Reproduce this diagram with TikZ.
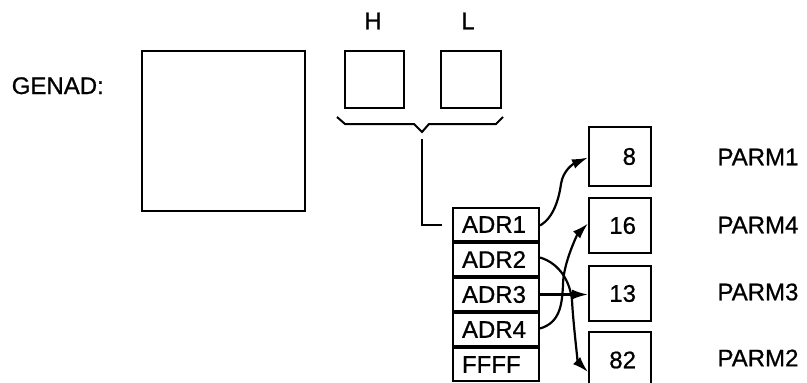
\documentclass[tikz,border=0pt]{standalone}
\usepackage{fontspec}
\setmainfont{Liberation Sans}[FakeBold=0.8]
\usetikzlibrary{arrows.meta}
\begin{document}
\begin{tikzpicture}[x=1pt,y=-1pt,
  every node/.style={font=\fontsize{24}{28}\selectfont},
  box/.style={draw,line width=2.2pt,inner sep=0pt},
  adrbox/.style={draw,line width=2pt,minimum width=86pt,minimum height=33pt,
     text width=68pt,inner xsep=9pt,inner ysep=0pt,align=left},
  valbox/.style={draw,line width=2pt,minimum height=56pt,
     text width=32pt,inner xsep=15pt,inner ysep=0pt,align=right},
  lbl/.style={anchor=west},
  wire/.style={line width=2pt},
  arr/.style={line width=2.2pt,-{Latex[length=16pt,width=10pt]}}]
\clip (0,0) rectangle (807,383);
% GENAD and registers
\node[anchor=base east,inner sep=0pt] (genad) at (104,94) {GENAD:};
\node[box,minimum width=163pt,minimum height=160pt] (big) at (223.5,131) {};
\node[box,minimum width=59pt,minimum height=57pt] (hbox) at (374.5,79.5) {};
\node[box,minimum width=60pt,minimum height=57pt] (lbox) at (471,79.5) {};
\node (hl) at (373,21) {H};
\node (ll) at (468,21) {L};
% brace
\draw[wire,line join=miter] (337,117) -- (345,124) -- (414,124) -- (422,132) -- (429,124) -- (496,124) -- (503,117);
\coordinate (bt) at (422,139);
% address table
\node[adrbox] (a1) at (496,224.5) {ADR1};
\node[adrbox,anchor=north] (a2) at (a1.south) {ADR2};
\node[adrbox,anchor=north] (a3) at (a2.south) {ADR3};
\node[adrbox,anchor=north] (a4) at (a3.south) {ADR4};
\node[adrbox,anchor=north] (a5) at (a4.south) {FFFF};
\coordinate (pin) at ([xshift=-10pt]a1.west);
\draw[wire] (bt) |- (pin);
% values
\node[valbox,minimum height=59pt] (v8) at (620,156.5) {8};
\node[valbox,minimum height=55pt] (v16) at (620,225.5) {16};
\node[valbox,minimum height=55pt] (v13) at (620,293.5) {13};
\node[valbox] (v82) at (620,360) {82};
\node[lbl] (p1) at (714,157) {PARM1};
\node[lbl] (p4) at (714,225) {PARM4};
\node[lbl] (p3) at (714,292) {PARM3};
\node[lbl] (p2) at (714,358) {PARM2};
% pointers
\draw[arr] ([yshift=-1pt]a1.east) .. controls +(14,-8) and +(-2,14) .. (561,184)
   .. controls +(2,-14) and +(-14,6) .. ([yshift=-1pt]v8.west);
\draw[arr] ([yshift=2pt]a2.east) .. controls +(20,6) and +(-2,-18) .. (572,300)
   .. controls +(1,22) and +(-10,-10) .. ([yshift=-12pt]v82.west);
\draw[arr] ([yshift=1pt]a4.east) .. controls +(20,-6) and +(-1,20) .. (563,285)
   .. controls +(0,-22) and +(-10,10) .. ([yshift=2pt]v16.west);
\draw[arr] ([yshift=0pt]a3.east) -- ([yshift=-1pt]v13.west);
\end{tikzpicture}
\end{document}
